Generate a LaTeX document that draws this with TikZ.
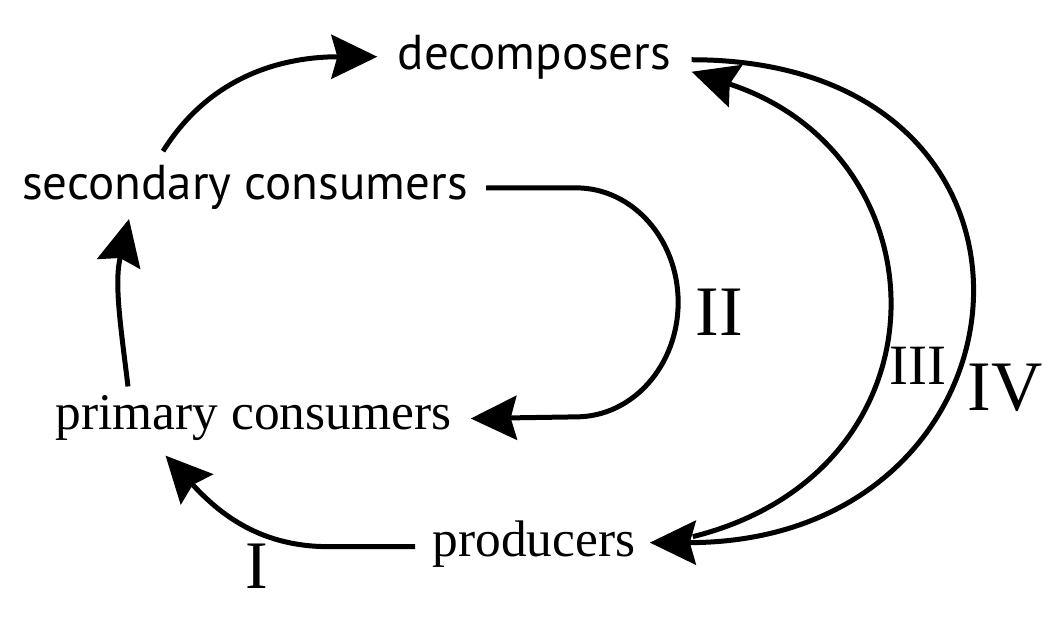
\documentclass[tikz,border=0pt]{standalone}
\usepackage{fontspec}
\setmainfont{Liberation Serif}
\setsansfont{PT Sans}
\usetikzlibrary{arrows.meta}

\begin{document}
\begin{tikzpicture}[x=0.5pt,y=0.5pt,line width=2.5pt,>={Stealth[length=23pt,width=22pt,inset=3pt]}]
    \tikzstyle{sans}=[inner sep=0pt,anchor=base,font=\sffamily\fontsize{24.5}{28}\selectfont]
    \tikzstyle{serif}=[inner sep=0pt,anchor=base,font=\fontsize{25.7}{30}\selectfont]
    \tikzstyle{num}=[inner sep=0pt]
    \useasboundingbox (0,0) rectangle (1050,621);
    \node[sans] (dec) at (534.5,551) {decomposers};
    \node[sans] (sec) at (245,421) {secondary consumers};
    \node[serif] (pri) at (253.5,191) {primary consumers};
    \node[serif] (pro) at (534,64) {producers};
    \node[num,font=\fontsize{34}{34}\selectfont] (one) at (257,55) {I};
    \node[num,font=\fontsize{35.5}{36}\selectfont] (two) at (719,309) {II};
    \node[num,font=\fontsize{28.5}{29}\selectfont] (three) at (918,255) {III};
    \node[num,font=\fontsize{35.5}{36}\selectfont] (four) at (1005,233) {IV};
    \draw[->] ([shift={(-15,-2)}]pro.west) -- ++(-87,0) to[out=180,in=-47] ([shift={(-88,-12)}]pri.south);
    \draw[->] ([shift={(-125.5,7)}]pri.north) to[out=97,in=-103] ([shift={(-116,-6.5)}]sec.south);
    \draw[->] ([shift={(-82,12)}]sec.north) to[out=58,in=180] ([shift={(-18,1)}]dec.west);
    \draw[->] ([shift={(16,0)}]sec.east) -- ++(90,0) arc[start angle=90,end angle=-90,x radius=102,y radius=114.5] -- ([shift={(17,0)}]pri.east);
    \draw[->] ([shift={(55,8)}]pro.east) to[out=14,in=-18,looseness=1.48] ([shift={(18,-14)}]dec.east);
    \draw[->] ([shift={(18,-2)}]dec.east) to[out=0,in=0,looseness=2.1] ([shift={(12,2)}]pro.east);
\end{tikzpicture}
\end{document}
